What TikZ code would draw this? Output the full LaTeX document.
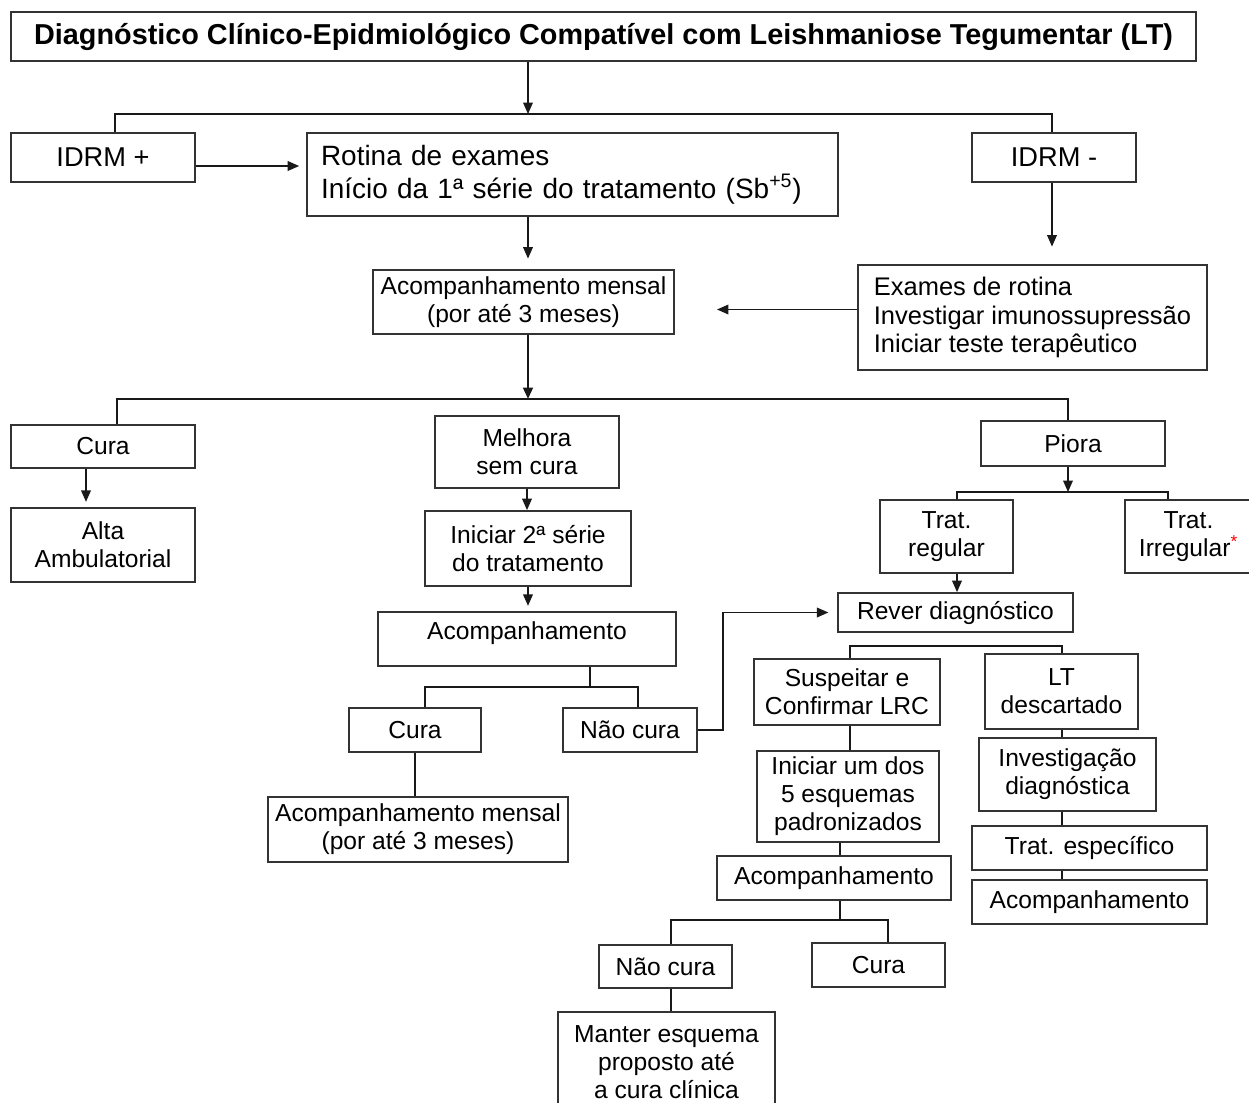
\documentclass[tikz,border=0pt]{standalone}
\usepackage{fontspec}
\setmainfont{Liberation Sans}
\usetikzlibrary{arrows.meta}

\begin{document}
\begin{tikzpicture}[
        x = 0.02cm, y = -0.02cm, % one unit = one pixel of the sketch
        > = {Triangle[length=6.5pt, width=5.5pt]}, % arrow head style
        line width = 0.8pt, % line style
        draw = black!90
    ]

    \tikzstyle{box}=[
        draw = black!80,
        line width = 1pt,
        fill = white,
        align = center,
        inner sep = 2pt,
        font = \fontsize{14}{16}\selectfont
    ]
    \tikzstyle{big}=[font = \fontsize{15.5}{19}\selectfont]

    \useasboundingbox (0,0) rectangle (1249,1103);

    % first level
    \node[box, font=\fontsize{16.4}{19}\bfseries\selectfont, minimum width=23.7cm, minimum height=0.98cm] (title) at (603.5,36.5) {Diagnóstico Clínico-Epidmiológico Compatível com Leishmaniose Tegumentar (LT)};
    \node[box, big, minimum width=3.68cm, minimum height=0.98cm] (idrmp) at (103,157.5) {IDRM +};
    \node[box, font=\fontsize{15.9}{19}\selectfont, align=left, text width=10.06cm, inner xsep=0.28cm, minimum height=1.66cm] (rotina) at (572.5,174.5) {Rotina de exames\\Início da 1ª série do tratamento (Sb\textsuperscript{+5})};
    \node[box, big, minimum width=3.28cm, minimum height=0.98cm] (idrmm) at (1054,157.5) {IDRM -};
    \node[box, font=\fontsize{14.5}{16}\selectfont, align=left, minimum width=6.98cm, minimum height=2.1cm] (exames) at (1032.5,317.5) {Exames de rotina\\Investigar imunossupressão\\Iniciar teste terapêutico};
    \node[box, minimum width=6.02cm, minimum height=1.28cm] (acomp1) at (523.5,302) {Acompanhamento mensal\\(por até 3 meses)};

    % second level
    \node[box, minimum width=3.68cm, minimum height=0.86cm] (cura1) at (103,446.5) {Cura};
    \node[box, minimum width=3.68cm, minimum height=1.48cm] (alta) at (103,545) {Alta\\Ambulatorial};
    \node[box, minimum width=3.68cm, minimum height=1.44cm] (melhora) at (527,452) {Melhora\\sem cura};
    \node[box, minimum width=4.12cm, minimum height=1.5cm] (iniciar2) at (528,548.5) {Iniciar 2ª série\\do tratamento};
    \node[box, minimum width=5.96cm, minimum height=1.08cm, inner ysep=0pt, text height=15.8pt, text depth=14.9pt] (acomp2) at (527,639) {Acompanhamento};
    \node[box, minimum width=2.64cm, minimum height=0.88cm] (cura2) at (415,730) {Cura};
    \node[box, minimum width=2.68cm, minimum height=0.88cm] (naocura2) at (630,730) {Não cura};
    \node[box, minimum width=6.0cm, minimum height=1.3cm] (acompm2) at (418,829.5) {Acompanhamento mensal\\(por até 3 meses)};

    % piora branch
    \node[box, minimum width=3.68cm, minimum height=0.9cm] (piora) at (1073,443.5) {Piora};
    \node[box, minimum width=2.66cm, minimum height=1.46cm] (tratreg) at (946.5,536.5) {Trat.\\regular};
    \node[box, minimum width=2.54cm, minimum height=1.46cm] (tratirr) at (1188.5,536.5) {Trat.\\Irregular\textsuperscript{\textcolor{red}{*}}};
    \node[box, minimum width=4.7cm, minimum height=0.78cm] (rever) at (955.5,612.5) {Rever diagnóstico};
    \node[box, minimum width=3.72cm, minimum height=1.32cm] (suspeitar) at (847,692) {Suspeitar e\\Confirmar LRC};
    \node[box, minimum width=3.06cm, minimum height=1.5cm] (ltdesc) at (1061.5,691.5) {LT\\descartado};
    \node[box, minimum width=3.64cm, minimum height=1.82cm] (iniciar5) at (848,796.5) {Iniciar um dos\\5 esquemas\\padronizados};
    \node[box, minimum width=4.68cm, minimum height=0.88cm] (acomp3) at (834,878) {Acompanhamento};
    \node[box, minimum width=2.66cm, minimum height=0.86cm] (naocura3) at (665.5,966.5) {Não cura};
    \node[box, minimum width=2.66cm, minimum height=0.88cm] (cura3) at (878.5,965) {Cura};
    \node[box, minimum width=4.34cm, minimum height=2.0cm] (manter) at (666.5,1062) {Manter esquema\\proposto até\\a cura clínica};
    \node[box, minimum width=3.54cm, minimum height=1.46cm] (investig) at (1067.5,774.5) {Investigação\\diagnóstica};
    \node[box, minimum width=4.7cm, minimum height=0.88cm] (tratesp) at (1089.5,848) {Trat. específico};
    \node[box, minimum width=4.7cm, minimum height=0.88cm] (acomp4) at (1089.5,902) {Acompanhamento};

    % forks
    \coordinate (top) at (528,114);
    \coordinate (topL) at (115,114);
    \coordinate (topR) at (1052,114);
    \coordinate (mid) at (528,399);
    \coordinate (midL) at (117,399);
    \coordinate (midR) at (1068,399);
    \coordinate (fork) at (590,687);
    \coordinate (forkL) at (425,687);
    \coordinate (forkR) at (638,687);
    \coordinate (back) at (723,680);
    \coordinate (worse) at (1068,492);
    \coordinate (worseL) at (957,492);
    \coordinate (worseR) at (1168,492);
    \coordinate (revL) at (850,646);
    \coordinate (revR) at (1062,646);
    \coordinate (lrc) at (840,920);
    \coordinate (lrcL) at (671,920);
    \coordinate (lrcR) at (888,920);

    \draw[->] (title.south -| top) -- (top);
    \draw (idrmp.north -| topL) -- (topL) -- (topR) -- (idrmm.north -| topR);
    \draw[->, shorten >=4pt] ([yshift=-0.17cm]idrmp.east) -- ([yshift=-0.17cm]idrmp.east -| rotina.west);
    \draw[->, shorten >=10pt] (idrmm.south -| topR) -- (exames.north -| topR);
    \draw[->, shorten >=6pt] (rotina.south -| top) -- (acomp1.north -| top);
    \draw[->, shorten >=24pt] ([yshift=0.16cm]exames.west) -- ([yshift=0.16cm]exames.west -| acomp1.east);

    \draw[->, line width=1.5pt] (acomp1.south -| mid) -- (mid);
    \draw (cura1.north -| midL) -- (midL) -- (midR) -- (piora.north -| midR);
    \draw[->, shorten >=3pt] ([xshift=-0.34cm]cura1.south) -- ([xshift=-0.34cm]alta.north);
    \draw[->] (melhora.south) -- (melhora.south |- iniciar2.north);
    \draw[->, shorten >=3pt] (iniciar2.south) -- (iniciar2.south |- acomp2.north);
    \draw (acomp2.south -| fork) -- (fork);
    \draw (cura2.north -| forkL) -- (forkL) -- (forkR) -- (naocura2.north -| forkR);
    \draw (cura2.south) -- (cura2.south |- acompm2.north);
    \draw[->, shorten >=5pt] (naocura2.east) -| (back) |- (rever.west);

    \draw[->] (piora.south -| worse) -- (worse);
    \draw (tratreg.north -| worseL) -- (worseL) -- (worseR) -- (tratirr.north -| worseR);
    \draw[->] (tratreg.south -| worseL) -- (rever.north -| worseL);
    \draw (suspeitar.north -| revL) -- (revL) -- (revR) -- (ltdesc.north -| revR);
    \draw (suspeitar.south -| revL) -- (iniciar5.north -| revL);
    \draw (iniciar5.south -| lrc) -- (acomp3.north -| lrc);
    \draw (acomp3.south -| lrc) -- (lrc);
    \draw (naocura3.north -| lrcL) -- (lrcL) -- (lrcR) -- (cura3.north -| lrcR);
    \draw (naocura3.south -| lrcL) -- (manter.north -| lrcL);
    \draw (ltdesc.south -| revR) -- (investig.north -| revR);
    \draw (investig.south -| revR) -- (tratesp.north -| revR);
    \draw (tratesp.south -| revR) -- (acomp4.north -| revR);
\end{tikzpicture}
\end{document}
